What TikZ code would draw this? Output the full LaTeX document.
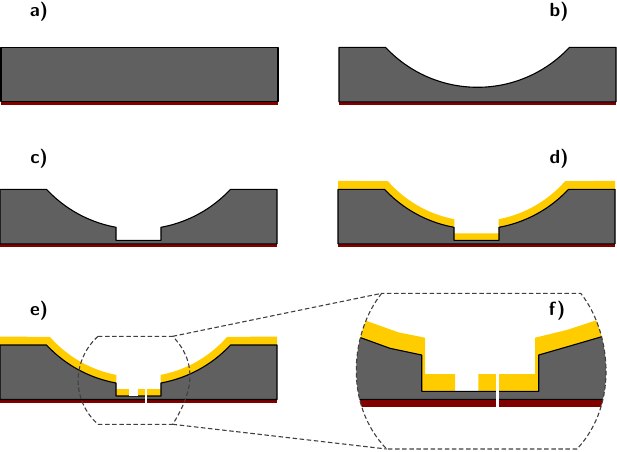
\documentclass[tikz,border=0pt]{standalone}
\usepackage{amsmath}

\definecolor{bulk}{HTML}{606060}
\definecolor{backing}{HTML}{800000}
\definecolor{metal}{HTML}{FFCC00}

\tikzset{
	bulkface/.style={fill=bulk, draw=black, line width=1.1pt, line join=round},
	backface/.style={fill=backing},
	metalface/.style={fill=metal},
	lensline/.style={draw=black!75, line width=1.1pt, dash pattern=on 4.5pt off 2.6pt},
	tag/.style={font=\sffamily\bfseries\fontsize{19}{21}\selectfont, inner sep=0pt},
}

% bowl shaped edge: radius, start angle, end angle
\newcommand{\bowledge}[3]{-- plot[variable=\t, domain=#2:#3, smooth] ({138.5 + #1 * sin(\t)}, {#1 * cos(\t) - 85.8})}
\newcommand{\notchedwafer}{
	\fill[backface] (0, 54.5) rectangle (277, 58);
	\draw[bulkface] (0, 0) \bowledge{125.8}{-47}{-10.3} -- (116, 51) -- (161, 51)
		\bowledge{125.8}{10.3}{47} -- (277, 0) -- (277, 54.5) -- (0, 54.5) -- cycle;
}
\newcommand{\metalfilm}{
	\fill[metalface] (0, -8.5) \bowledge{117.8}{-48.7}{-10.8} -- (116, 44) -- (161, 44)
		\bowledge{117.8}{10.8}{48.7} -- (277, -8.5) -- (277, 51) -- (0, 51) -- cycle;
}
\newcommand{\biglens}{(bigtl) .. controls (352, 330) and (342, 403) .. (bigbl) -- (bigbr)
	.. controls (620, 403) and (610, 330) .. (bigtr) -- cycle}

\begin{document}
\begin{tikzpicture}[x=1pt, y=-1pt]
		\useasboundingbox (0, 0) rectangle (617, 451);

		\node[tag] (taga) at (39, 12) {a)};
		\node[tag] (tagb) at (559, 12) {b)};
		\node[tag] (tagc) at (39, 159) {c)};
		\node[tag] (tagd) at (559, 159) {d)};
		\node[tag] (tage) at (39, 311) {e)};
		\node[tag] (tagf) at (557, 311) {f)};

		\begin{scope}[shift={(1, 47.3)}]
			\fill[backface] (0, 54.5) rectangle (277, 58);
			\draw[bulkface] (0, 0) rectangle (277, 54.5);
		\end{scope}

		\begin{scope}[shift={(339, 47.3)}]
			\fill[backface] (0, 54.5) rectangle (277, 58);
			\draw[bulkface] (0, 0) \bowledge{125.8}{-47}{47} -- (277, 0) -- (277, 54.5) -- (0, 54.5) -- cycle;
		\end{scope}

		\begin{scope}[shift={(0, 189.3)}]
			\notchedwafer
		\end{scope}

		\begin{scope}[shift={(338, 189.3)}]
			\metalfilm
			\notchedwafer
		\end{scope}

		\begin{scope}[shift={(0, 345)}]
			\metalfilm
			\notchedwafer
			\fill[white] (128.7, 44) rectangle (138, 50.5);
			\fill[white] (145, 44) rectangle (146.8, 58);
		\end{scope}

		% small lens on e, big lens round f
		\coordinate (smalltl) at (98, 336.3);
		\coordinate (smalltr) at (172.7, 336.3);
		\coordinate (smallbl) at (98, 424.3);
		\coordinate (smallbr) at (172.7, 424.3);
		\coordinate (bigtl) at (381.7, 293.3);
		\coordinate (bigtr) at (580.7, 293.3);
		\coordinate (bigbl) at (386.7, 449);
		\coordinate (bigbr) at (577, 449);

		\begin{scope}
			\clip \biglens;
			\fill[metalface] (340, 311) -- (366, 320.7) -- (398.3, 332.3) -- (425, 337.7) -- (425, 374) -- (455, 374)
				-- (455, 391.3) -- (421.7, 391.3) -- (421.7, 360) -- (340, 360) -- cycle;
			\fill[metalface] (478.3, 391.3) -- (478.3, 374) -- (535, 374) -- (535, 337.7) -- (566.7, 330)
				-- (597.3, 320) -- (620, 313) -- (620, 360) -- (538.7, 360) -- (538.7, 391.3) -- cycle;
			\fill[backface] (340, 399.3) rectangle (620, 407.3);
			\draw[bulkface] (340, 331.5) -- (360.7, 337.7) -- (390, 348.3) -- (421.7, 355) -- (421.7, 391.3) -- (538.7, 391.3)
				-- (538.7, 355) -- (573.3, 345) -- (601.7, 336.7) -- (625, 330) -- (625, 399.3) -- (340, 399.3) -- cycle;
			\fill[white] (496, 374) rectangle (499.3, 407.3);
		\end{scope}

		\draw[lensline] (smalltl) .. controls (72, 360) and (71, 400) .. (smallbl) -- (smallbr)
			.. controls (191, 395) and (200, 365) .. (smalltr) -- cycle;
		\draw[lensline] \biglens;
		\draw[lensline] (smalltr) -- (bigtl);
		\draw[lensline] (smallbr) -- (bigbl);
		\end{tikzpicture}
\end{document}
